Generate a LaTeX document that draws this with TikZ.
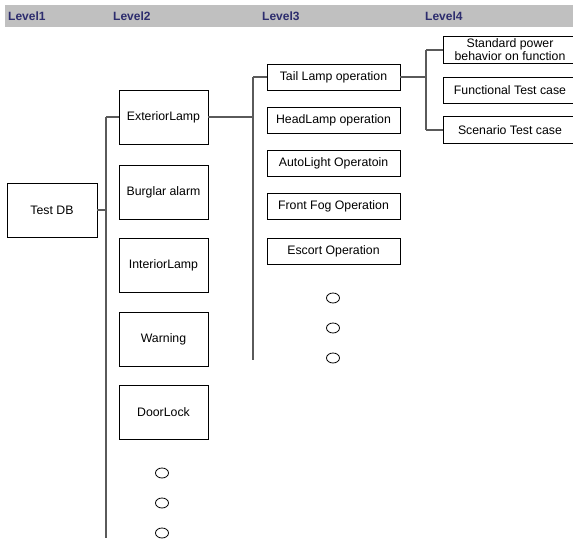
\documentclass[tikz,border=0pt]{standalone}
\usepackage{fontspec}
\setmainfont{Liberation Sans}
\definecolor{hdrgray}{RGB}{192,192,192}
\definecolor{hdrtext}{RGB}{45,45,110}
\definecolor{linegray}{RGB}{90,90,90}
\tikzset{
  box/.style={draw=black, line width=0.8pt, fill=white, inner sep=0pt, align=center,
    font=\fontsize{12.3}{12.8}\selectfont},
  lvtwo/.style={box, minimum width=89pt, minimum height=54pt},
  lvthree/.style={box, minimum width=133pt, minimum height=26pt},
  lvfour/.style={box, minimum width=134pt, minimum height=26.5pt},
  conn/.style={draw=linegray, line width=1.2pt},
  more/.style={draw=black, line width=0.8pt},
  hdr/.style={anchor=west, inner sep=0pt, text=hdrtext, font=\fontsize{12}{12}\selectfont\bfseries}
}
\begin{document}
\begin{tikzpicture}[x=1pt,y=-1pt]
\useasboundingbox (0,0) rectangle (573,540);
\fill[white] (0,0) rectangle (573,540);
% header band
\fill[hdrgray] (5,5) rectangle (573,27);
\node[hdr] (h1) at (8,16) {Level1};
\node[hdr] (h2) at (113,16) {Level2};
\node[hdr] (h3) at (262,16) {Level3};
\node[hdr] (h4) at (425,16) {Level4};
% level 1
\node[box, minimum width=90pt, minimum height=54pt] (tdb) at (52,210) {Test DB};
% level 2
\node[lvtwo] (ext) at (163.5,117) {ExteriorLamp};
\node[lvtwo] (bur) at (163.5,192) {Burglar alarm};
\node[lvtwo] (int) at (163.5,265) {InteriorLamp};
\node[lvtwo] (war) at (163.5,339) {Warning};
\node[lvtwo] (door) at (163.5,412) {DoorLock};
% level 3
\node[lvthree] (tail) at (333.5,77) {Tail Lamp operation};
\node[lvthree] (head) at (333.5,120) {HeadLamp operation};
\node[lvthree] (auto) at (333.5,163) {AutoLight Operatoin};
\node[lvthree] (fog) at (333.5,206) {Front Fog Operation};
\node[lvthree] (esc) at (333.5,251.5) {Escort Operation};
% level 4
\node[lvfour] (std) at (510,50) {Standard power\\behavior on function};
\node[lvfour] (fun) at (510,90.5) {Functional Test case};
\node[lvfour] (scn) at (510,130) {Scenario Test case};
% bus coordinates
\coordinate (b2top) at (106,117);
\coordinate (b2bot) at (106,538);
\coordinate (b3top) at (253,77);
\coordinate (b3bot) at (253,360);
\coordinate (b4top) at (426,50);
\coordinate (b4bot) at (426,130);
% connectors
\draw[conn] (tdb.east) -- (tdb.east -| b2top);
\draw[conn] (b2top) -- (b2bot);
\draw[conn] (b2top) -- (ext.west);
\draw[conn] (ext.east) -- (ext.east -| b3top);
\draw[conn] (b3top) -- (b3bot);
\draw[conn] (b3top) -- (tail.west);
\draw[conn] (tail.east) -- (tail.east -| b4top);
\draw[conn] (b4top) -- (b4bot);
\draw[conn] (b4top) -- (std.west);
\draw[conn] (b4bot) -- (scn.west);
% continuation marks
\draw[more] (162,473) ellipse [x radius=6.5pt, y radius=5pt];
\draw[more] (162,503) ellipse [x radius=6.5pt, y radius=5pt];
\draw[more] (162,533) ellipse [x radius=6.5pt, y radius=5pt];
\draw[more] (333,298) ellipse [x radius=6.5pt, y radius=5pt];
\draw[more] (333,328) ellipse [x radius=6.5pt, y radius=5pt];
\draw[more] (333,358) ellipse [x radius=6.5pt, y radius=5pt];
\end{tikzpicture}
\end{document}
